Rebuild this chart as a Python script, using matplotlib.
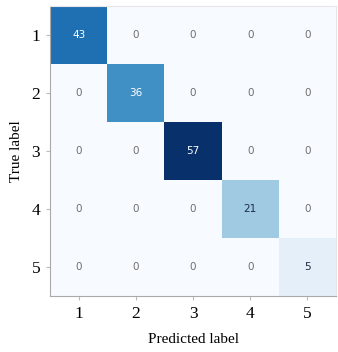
import numpy as np
import matplotlib.pyplot as plt

labels = ["1", "2", "3", "4", "5"]
counts = np.array([
    [43, 0, 0, 0, 0],
    [0, 36, 0, 0, 0],
    [0, 0, 57, 0, 0],
    [0, 0, 0, 21, 0],
    [0, 0, 0, 0, 5],
])

fig = plt.figure(figsize=(3.38, 3.52), dpi=100)
ax = fig.add_axes([50 / 338, 56 / 352, 286 / 338, 290 / 352])

ax.imshow(counts, cmap="Blues", vmin=0, vmax=counts.max(), aspect="auto")

for i in range(counts.shape[0]):
    for j in range(counts.shape[1]):
        v = counts[i, j]
        if v == 0:
            color = "#6e6e6e"
        elif v > counts.max() * 0.5:
            color = "white"
        else:
            color = "#1c2a45"
        ax.text(j, i, str(v), ha="center", va="center", fontsize=7.5,
                color=color, family="DejaVu Sans")

ax.set_xticks(range(len(labels)))
ax.set_yticks(range(len(labels)))
ax.set_xticklabels(labels, family="Liberation Serif", fontsize=12.5)
ax.set_yticklabels(labels, family="Liberation Serif", fontsize=12.5)
ax.tick_params(length=3, color="#bbbbbb", pad=4)
ax.set_xlabel("Predicted label", family="Liberation Serif", fontsize=11, labelpad=8)
ax.set_ylabel("True label", family="Liberation Serif", fontsize=11, labelpad=6)

for side in ["top", "right"]:
    ax.spines[side].set_color("#e6e6e6")
for side in ["left", "bottom"]:
    ax.spines[side].set_color("#aaaaaa")

fig.savefig("out.png", dpi=100)
